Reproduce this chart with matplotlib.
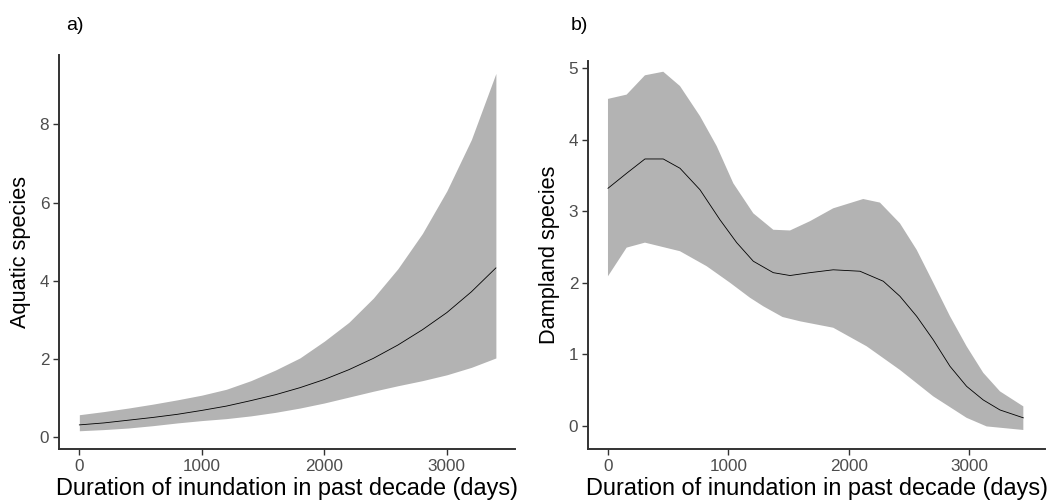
import numpy as np
import matplotlib
matplotlib.use("Agg")
import matplotlib.pyplot as plt

plt.rcParams['font.family'] = ['Liberation Sans', 'DejaVu Sans']

# panel a) aquatic species
a_x = [0, 200, 400, 600, 800, 1000, 1200, 1400, 1600, 1800, 2000, 2200, 2400, 2600, 2800, 3000, 3200, 3400]
a_fit = [0.32, 0.37, 0.44, 0.51, 0.59, 0.69, 0.80, 0.94, 1.09, 1.27, 1.48, 1.73, 2.02, 2.36, 2.75, 3.19, 3.72, 4.33]
a_upper = [0.58, 0.66, 0.75, 0.85, 0.96, 1.08, 1.23, 1.45, 1.72, 2.03, 2.46, 2.94, 3.56, 4.31, 5.21, 6.30, 7.61, 9.30]
a_lower = [0.17, 0.20, 0.24, 0.30, 0.37, 0.43, 0.48, 0.55, 0.64, 0.75, 0.88, 1.03, 1.18, 1.32, 1.45, 1.60, 1.79, 2.03]

# panel b) dampland species
b_fit_x = [0, 155, 307, 459, 598, 764, 930, 1069, 1207, 1373, 1512, 1678, 1871, 2093, 2287,
           2425, 2564, 2702, 2841, 2979, 3117, 3256, 3450]
b_fit = [3.32, 3.53, 3.73, 3.73, 3.60, 3.30, 2.88, 2.56, 2.30, 2.14, 2.10, 2.14, 2.18, 2.16, 2.02,
         1.81, 1.53, 1.20, 0.83, 0.55, 0.36, 0.22, 0.11]
b_up_x = [0, 155, 307, 459, 598, 764, 903, 1041, 1207, 1373, 1512, 1678, 1871, 2120, 2259,
          2425, 2564, 2702, 2841, 2979, 3117, 3256, 3450]
b_upper = [4.57, 4.63, 4.90, 4.95, 4.75, 4.33, 3.91, 3.39, 2.97, 2.74, 2.73, 2.86, 3.04, 3.17, 3.12,
           2.83, 2.46, 2.00, 1.53, 1.11, 0.74, 0.48, 0.27]
b_lo_x = [0, 155, 307, 598, 820, 1013, 1179, 1290, 1450, 1595, 1871, 2149, 2425, 2702, 2979, 3145, 3450]
b_lower = [2.09, 2.49, 2.56, 2.44, 2.23, 2.00, 1.79, 1.67, 1.52, 1.46, 1.37, 1.11, 0.78, 0.41, 0.11, -0.01, -0.06]

xlabel = "Duration of inundation in past decade (days)"
band = '#b3b3b3'
spine_c = '#333333'
tick_c = '#4d4d4d'

fig = plt.figure(figsize=(10.51, 5.04), dpi=100)
ax1 = fig.add_axes([59/1051, 1-449/504, 456/1051, 394/504])
ax2 = fig.add_axes([588/1051, 1-449/504, 457/1051, 388/504])

ax1.fill_between(a_x, a_lower, a_upper, color=band, lw=0)
ax1.plot(a_x, a_fit, color='black', lw=0.6)
ax1.set_xlim(-166, 3556)
ax1.set_ylim(-0.296, 9.77)
ax1.set_yticks([0, 2, 4, 6, 8])
ax1.set_ylabel("Aquatic species", fontsize=15.7, labelpad=6)

bx = np.concatenate([b_up_x, b_lo_x[::-1]])
by = np.concatenate([b_upper, b_lower[::-1]])
ax2.fill(bx, by, color=band, lw=0)
ax2.plot(b_fit_x, b_fit, color='black', lw=0.6)
ax2.set_xlim(-166, 3630)
ax2.set_ylim(-0.326, 5.10)
ax2.set_yticks([0, 1, 2, 3, 4, 5])
ax2.set_ylabel("Dampland species", fontsize=15.7, labelpad=6)

for ax in (ax1, ax2):
    ax.set_xticks([0, 1000, 2000, 3000])
    ax.set_xlabel(xlabel, fontsize=16.9, labelpad=2)
    for s in ('top', 'right'):
        ax.spines[s].set_visible(False)
    for s in ('left', 'bottom'):
        ax.spines[s].set_color(spine_c)
        ax.spines[s].set_linewidth(1.4)
    ax.tick_params(length=4, width=1, color=spine_c, labelcolor=tick_c, labelsize=12.3, pad=3)

fig.text(66/1051, 1-25/504, "a)", fontsize=14, va='center', ha='left')
fig.text(571/1051, 1-26/504, "b)", fontsize=14, va='center', ha='left')

fig.savefig("out.png", dpi=100)
